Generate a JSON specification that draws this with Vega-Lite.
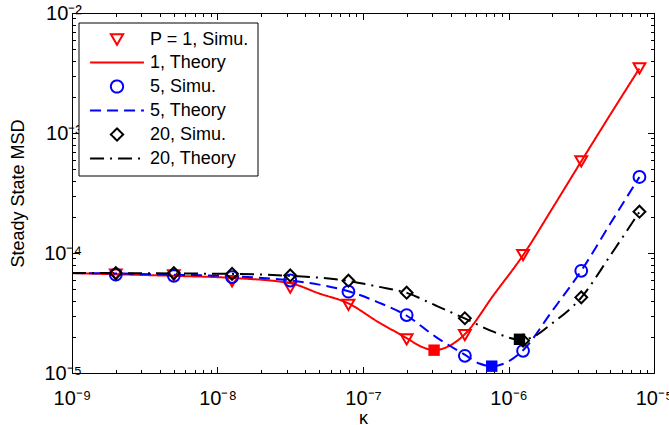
{
  "$schema": "https://vega.github.io/schema/vega-lite/v6.json",
  "width": 582,
  "height": 360,
  "autosize": "none",
  "padding": {"left": 72, "top": 13, "right": 15, "bottom": 52},
  "config": {
    "font": "Liberation Sans",
    "view": {"stroke": null},
    "axis": {
      "grid": false,
      "domainColor": "black",
      "domainWidth": 1,
      "tickColor": "black",
      "tickWidth": 1,
      "labelColor": "black",
      "labelFont": "Liberation Sans",
      "labelFontSize": 20,
      "titleFont": "Liberation Sans",
      "titleFontSize": 18,
      "titleFontWeight": "normal",
      "titleColor": "black",
      "labelOverlap": false,
      "labelFlush": false
    }
  },
  "datasets": {
    "sim": [
      {"kappa": 2e-9, "msd": 6.6e-5, "series": "P = 1, Simu."},
      {"kappa": 5.01e-9, "msd": 6.5e-5, "series": "P = 1, Simu."},
      {"kappa": 1.259e-8, "msd": 5.8e-5, "series": "P = 1, Simu."},
      {"kappa": 3.162e-8, "msd": 5.15e-5, "series": "P = 1, Simu."},
      {"kappa": 7.943e-8, "msd": 3.7e-5, "series": "P = 1, Simu."},
      {"kappa": 1.995e-7, "msd": 1.91e-5, "series": "P = 1, Simu."},
      {"kappa": 5.012e-7, "msd": 2.07e-5, "series": "P = 1, Simu."},
      {"kappa": 1.259e-6, "msd": 9.6e-5, "series": "P = 1, Simu."},
      {"kappa": 3.162e-6, "msd": 5.8e-4, "series": "P = 1, Simu."},
      {"kappa": 7.943e-6, "msd": 3.45e-3, "series": "P = 1, Simu."},
      {"kappa": 2e-9, "msd": 6.6e-5, "series": "5, Simu."},
      {"kappa": 5.01e-9, "msd": 6.45e-5, "series": "5, Simu."},
      {"kappa": 1.259e-8, "msd": 6.3e-5, "series": "5, Simu."},
      {"kappa": 3.162e-8, "msd": 5.9e-5, "series": "5, Simu."},
      {"kappa": 7.943e-8, "msd": 4.76e-5, "series": "5, Simu."},
      {"kappa": 1.995e-7, "msd": 3.04e-5, "series": "5, Simu."},
      {"kappa": 5.012e-7, "msd": 1.39e-5, "series": "5, Simu."},
      {"kappa": 1.259e-6, "msd": 1.53e-5, "series": "5, Simu."},
      {"kappa": 3.162e-6, "msd": 7.1e-5, "series": "5, Simu."},
      {"kappa": 7.943e-6, "msd": 4.3e-4, "series": "5, Simu."},
      {"kappa": 2e-9, "msd": 6.8e-5, "series": "20, Simu."},
      {"kappa": 5.01e-9, "msd": 6.8e-5, "series": "20, Simu."},
      {"kappa": 1.259e-8, "msd": 6.7e-5, "series": "20, Simu."},
      {"kappa": 3.162e-8, "msd": 6.5e-5, "series": "20, Simu."},
      {"kappa": 7.943e-8, "msd": 5.88e-5, "series": "20, Simu."},
      {"kappa": 1.995e-7, "msd": 4.67e-5, "series": "20, Simu."},
      {"kappa": 5.012e-7, "msd": 2.86e-5, "series": "20, Simu."},
      {"kappa": 1.259e-6, "msd": 1.86e-5, "series": "20, Simu."},
      {"kappa": 3.162e-6, "msd": 4.27e-5, "series": "20, Simu."},
      {"kappa": 7.943e-6, "msd": 2.21e-4, "series": "20, Simu."}
    ],
    "theory": [
      {"kappa": 1e-9, "msd": 6.8e-5, "series": "1, Theory"},
      {"kappa": 2e-9, "msd": 6.65e-5, "series": "1, Theory"},
      {"kappa": 5e-9, "msd": 6.45e-5, "series": "1, Theory"},
      {"kappa": 1.26e-8, "msd": 6.2e-5, "series": "1, Theory"},
      {"kappa": 3.16e-8, "msd": 5.6e-5, "series": "1, Theory"},
      {"kappa": 5.0e-8, "msd": 4.6e-5, "series": "1, Theory"},
      {"kappa": 7.94e-8, "msd": 3.8e-5, "series": "1, Theory"},
      {"kappa": 1.26e-7, "msd": 2.68e-5, "series": "1, Theory"},
      {"kappa": 2.0e-7, "msd": 1.95e-5, "series": "1, Theory"},
      {"kappa": 2.51e-7, "msd": 1.66e-5, "series": "1, Theory"},
      {"kappa": 3.08e-7, "msd": 1.55e-5, "series": "1, Theory"},
      {"kappa": 3.98e-7, "msd": 1.7e-5, "series": "1, Theory"},
      {"kappa": 5.0e-7, "msd": 2.1e-5, "series": "1, Theory"},
      {"kappa": 7.94e-7, "msd": 4.5e-5, "series": "1, Theory"},
      {"kappa": 1.26e-6, "msd": 9.6e-5, "series": "1, Theory"},
      {"kappa": 2.0e-6, "msd": 2.35e-4, "series": "1, Theory"},
      {"kappa": 3.16e-6, "msd": 5.8e-4, "series": "1, Theory"},
      {"kappa": 5.0e-6, "msd": 1.42e-3, "series": "1, Theory"},
      {"kappa": 7.94e-6, "msd": 3.45e-3, "series": "1, Theory"},
      {"kappa": 1e-9, "msd": 6.8e-5, "series": "5, Theory"},
      {"kappa": 2e-9, "msd": 6.75e-5, "series": "5, Theory"},
      {"kappa": 5e-9, "msd": 6.6e-5, "series": "5, Theory"},
      {"kappa": 1.26e-8, "msd": 6.4e-5, "series": "5, Theory"},
      {"kappa": 3.16e-8, "msd": 5.9e-5, "series": "5, Theory"},
      {"kappa": 5.0e-8, "msd": 5.45e-5, "series": "5, Theory"},
      {"kappa": 7.94e-8, "msd": 4.8e-5, "series": "5, Theory"},
      {"kappa": 1.26e-7, "msd": 3.9e-5, "series": "5, Theory"},
      {"kappa": 2.0e-7, "msd": 3.0e-5, "series": "5, Theory"},
      {"kappa": 3.16e-7, "msd": 2.0e-5, "series": "5, Theory"},
      {"kappa": 5.0e-7, "msd": 1.42e-5, "series": "5, Theory"},
      {"kappa": 6.3e-7, "msd": 1.2e-5, "series": "5, Theory"},
      {"kappa": 7.67e-7, "msd": 1.14e-5, "series": "5, Theory"},
      {"kappa": 1.0e-6, "msd": 1.25e-5, "series": "5, Theory"},
      {"kappa": 1.26e-6, "msd": 1.55e-5, "series": "5, Theory"},
      {"kappa": 2.0e-6, "msd": 3.3e-5, "series": "5, Theory"},
      {"kappa": 3.16e-6, "msd": 7.1e-5, "series": "5, Theory"},
      {"kappa": 5.0e-6, "msd": 1.75e-4, "series": "5, Theory"},
      {"kappa": 7.94e-6, "msd": 4.3e-4, "series": "5, Theory"},
      {"kappa": 1e-9, "msd": 6.8e-5, "series": "20, Theory"},
      {"kappa": 2e-9, "msd": 6.8e-5, "series": "20, Theory"},
      {"kappa": 5e-9, "msd": 6.75e-5, "series": "20, Theory"},
      {"kappa": 1.26e-8, "msd": 6.7e-5, "series": "20, Theory"},
      {"kappa": 3.16e-8, "msd": 6.45e-5, "series": "20, Theory"},
      {"kappa": 7.94e-8, "msd": 5.85e-5, "series": "20, Theory"},
      {"kappa": 1.26e-7, "msd": 5.25e-5, "series": "20, Theory"},
      {"kappa": 2.0e-7, "msd": 4.65e-5, "series": "20, Theory"},
      {"kappa": 3.16e-7, "msd": 3.65e-5, "series": "20, Theory"},
      {"kappa": 5.0e-7, "msd": 2.85e-5, "series": "20, Theory"},
      {"kappa": 7.94e-7, "msd": 2.2e-5, "series": "20, Theory"},
      {"kappa": 1.19e-6, "msd": 1.9e-5, "series": "20, Theory"},
      {"kappa": 1.4e-6, "msd": 1.95e-5, "series": "20, Theory"},
      {"kappa": 2.0e-6, "msd": 2.6e-5, "series": "20, Theory"},
      {"kappa": 3.16e-6, "msd": 4.25e-5, "series": "20, Theory"},
      {"kappa": 5.0e-6, "msd": 9.5e-5, "series": "20, Theory"},
      {"kappa": 7.94e-6, "msd": 2.2e-4, "series": "20, Theory"}
    ],
    "opt": [
      {"kappa": 3.08e-7, "msd": 1.55e-5, "P": "1"},
      {"kappa": 7.67e-7, "msd": 1.14e-5, "P": "5"},
      {"kappa": 1.19e-6, "msd": 1.91e-5, "P": "20"}
    ]
  },
  "layer": [
    {
      "layer": [
        {
          "data": {"name": "theory"},
          "mark": {"type": "line", "strokeWidth": 2, "interpolate": "monotone", "clip": true},
          "encoding": {
            "x": {
              "field": "kappa", "type": "quantitative",
              "scale": {"type": "log", "domain": [1e-9, 1e-5], "nice": false},
              "axis": {
                "orient": "bottom",
                "title": "κ",
                "titlePadding": -2,
                "values": [1e-9,2e-9,3e-9,4e-9,5e-9,6e-9,7e-9,8e-9,9e-9,1e-8,2e-8,3e-8,4e-8,5e-8,6e-8,7e-8,8e-8,9e-8,1e-7,2e-7,3e-7,4e-7,5e-7,6e-7,7e-7,8e-7,9e-7,1e-6,2e-6,3e-6,4e-6,5e-6,6e-6,7e-6,8e-6,9e-6,1e-5],
                "labelExpr": "abs(log(datum.value)/LN10 - round(log(datum.value)/LN10)) < 0.001 ? '10' + '⁻' + ['⁰','¹','²','³','⁴','⁵','⁶','⁷','⁸','⁹'][abs(round(log(datum.value)/LN10))] : ''",
                "tickSize": {"condition": {"test": "abs(log(datum.value)/LN10 - round(log(datum.value)/LN10)) < 0.001", "value": -6.5}, "value": -3.5},
                "labelPadding": 21.5
              }
            },
            "y": {
              "field": "msd", "type": "quantitative",
              "scale": {"type": "log", "domain": [1e-5, 1e-2], "nice": false},
              "axis": {
                "orient": "left",
                "title": "Steady State MSD",
                "titlePadding": 16,
                "values": [1e-5,2e-5,3e-5,4e-5,5e-5,6e-5,7e-5,8e-5,9e-5,1e-4,2e-4,3e-4,4e-4,5e-4,6e-4,7e-4,8e-4,9e-4,1e-3,2e-3,3e-3,4e-3,5e-3,6e-3,7e-3,8e-3,9e-3,1e-2],
                "labelExpr": "abs(log(datum.value)/LN10 - round(log(datum.value)/LN10)) < 0.001 ? '10' + '⁻' + ['⁰','¹','²','³','⁴','⁵','⁶','⁷','⁸','⁹'][abs(round(log(datum.value)/LN10))] : ''",
                "tickSize": {"condition": {"test": "abs(log(datum.value)/LN10 - round(log(datum.value)/LN10)) < 0.001", "value": -6.5}, "value": -3.5},
                "labelPadding": -3
              }
            },
            "color": {
              "field": "series", "type": "nominal",
              "scale": {"domain": ["P = 1, Simu.", "1, Theory", "5, Simu.", "5, Theory", "20, Simu.", "20, Theory"], "range": ["#ff0000", "#ff0000", "#0000ff", "#0000ff", "#000000", "#000000"]},
              "legend": {"title": null, "orient": "none", "legendX": 6.5, "legendY": 9.5, "strokeColor": "black", "fillColor": "white", "padding": 8, "cornerRadius": 0, "symbolSize": 150, "symbolStrokeWidth": 2, "symbolOffset": 21.5, "labelOffset": 24, "labelFont": "Liberation Sans", "labelFontSize": 18, "labelColor": "black", "rowPadding": 4, "labelLimit": 300}
            },
            "strokeDash": {
              "field": "series", "type": "nominal",
              "scale": {"domain": ["P = 1, Simu.", "1, Theory", "5, Simu.", "5, Theory", "20, Simu.", "20, Theory"], "range": [[1, 0], [1, 0], [1, 0], [11, 6], [1, 0], [14, 6, 2, 6]]},
              "legend": {"title": null, "orient": "none", "legendX": 6.5, "legendY": 9.5, "strokeColor": "black", "fillColor": "white", "padding": 8, "cornerRadius": 0, "symbolSize": 150, "symbolStrokeWidth": 2, "symbolOffset": 21.5, "labelOffset": 24, "labelFont": "Liberation Sans", "labelFontSize": 18, "labelColor": "black", "rowPadding": 4, "labelLimit": 300}
            }
          }
        },
        {
          "data": {"name": "sim"},
          "mark": {"type": "point", "filled": false, "strokeWidth": 2, "size": 140, "opacity": 1},
          "encoding": {
            "x": {"field": "kappa", "type": "quantitative"},
            "y": {"field": "msd", "type": "quantitative"},
            "color": {"field": "series", "type": "nominal"},
            "shape": {
              "field": "series", "type": "nominal",
              "scale": {"domain": ["P = 1, Simu.", "1, Theory", "5, Simu.", "5, Theory", "20, Simu.", "20, Theory"], "range": ["triangle-down", "M-4.4,0H4.4", "circle", "M-4.4,0H4.4", "diamond", "M-4.4,0H4.4"]},
              "legend": {"title": null, "orient": "none", "legendX": 6.5, "legendY": 9.5, "strokeColor": "black", "fillColor": "white", "padding": 8, "cornerRadius": 0, "symbolSize": 150, "symbolStrokeWidth": 2, "symbolOffset": 21.5, "labelOffset": 24, "labelFont": "Liberation Sans", "labelFontSize": 18, "labelColor": "black", "rowPadding": 4, "labelLimit": 300}
            }
          }
        },
        {
          "data": {"name": "opt"},
          "mark": {"type": "square", "filled": true, "size": 130, "opacity": 1},
          "encoding": {
            "x": {"field": "kappa", "type": "quantitative"},
            "y": {"field": "msd", "type": "quantitative"},
            "fill": {"field": "P", "type": "nominal", "scale": {"domain": ["1", "5", "20"], "range": ["#ff0000", "#0000ff", "#000000"]}, "legend": null}
          }
        }
      ]
    },
    {
      "data": {"name": "sim"},
      "mark": {"type": "point", "opacity": 0},
      "encoding": {
        "x": {
          "field": "kappa", "type": "quantitative",
          "axis": {
            "orient": "top", "title": null, "labels": false,
            "values": [1e-9,2e-9,3e-9,4e-9,5e-9,6e-9,7e-9,8e-9,9e-9,1e-8,2e-8,3e-8,4e-8,5e-8,6e-8,7e-8,8e-8,9e-8,1e-7,2e-7,3e-7,4e-7,5e-7,6e-7,7e-7,8e-7,9e-7,1e-6,2e-6,3e-6,4e-6,5e-6,6e-6,7e-6,8e-6,9e-6,1e-5],
            "tickSize": {"condition": {"test": "abs(log(datum.value)/LN10 - round(log(datum.value)/LN10)) < 0.001", "value": -6.5}, "value": -3.5}
          }
        },
        "y": {
          "field": "msd", "type": "quantitative",
          "axis": {
            "orient": "right", "title": null, "labels": false,
            "values": [1e-5,2e-5,3e-5,4e-5,5e-5,6e-5,7e-5,8e-5,9e-5,1e-4,2e-4,3e-4,4e-4,5e-4,6e-4,7e-4,8e-4,9e-4,1e-3,2e-3,3e-3,4e-3,5e-3,6e-3,7e-3,8e-3,9e-3,1e-2],
            "tickSize": {"condition": {"test": "abs(log(datum.value)/LN10 - round(log(datum.value)/LN10)) < 0.001", "value": -6.5}, "value": -3.5}
          }
        }
      }
    }
  ],
  "resolve": {"axis": {"x": "independent", "y": "independent"}}
}
